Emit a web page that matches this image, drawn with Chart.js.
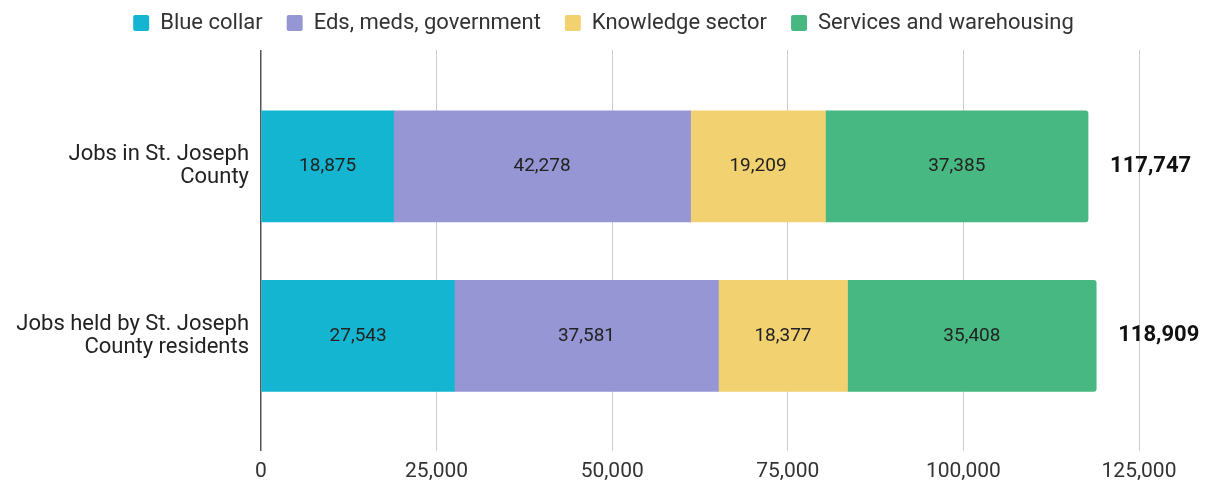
<!DOCTYPE html>
<html>
<head>
<meta charset="utf-8">
<script src="https://cdn.jsdelivr.net/npm/chart.js@4/dist/chart.umd.min.js"></script>
<style>
  body { margin: 0; background: #fff; }
</style>
</head>
<body>
<canvas id="jobsChart" width="1217" height="483"></canvas>
<script>
// two rows, four job groups
var rowLabels = [['Jobs in St. Joseph', 'County'], ['Jobs held by St. Joseph', 'County residents']];
var groups = ['Blue collar', 'Eds, meds, government', 'Knowledge sector', 'Services and warehousing'];
var blueCollar = [18875, 27543];
var edsMeds = [42278, 37581];
var knowledge = [19209, 18377];
var services = [37385, 35408];
var xTicks = [0, 25000, 50000, 75000, 100000, 125000];

var groupColors = ['#13B5D1', '#9696D4', '#F2D170', '#48B882'];
var values = [blueCollar, edsMeds, knowledge, services];

var totals = [];
for (var r = 0; r < rowLabels.length; r++) {
  var t = 0;
  for (var g = 0; g < values.length; g++) t += values[g][r];
  totals.push(t);
}

function fmt(n) { return n.toLocaleString('en-US'); }

var datasets = [];
for (var g = 0; g < groups.length; g++) {
  datasets.push({
    label: groups[g],
    data: values[g].map(function (v, i) { return { x: v, y: i }; }),
    backgroundColor: groupColors[g],
    borderWidth: 0,
    barThickness: 111,
    stack: 'all',
    borderRadius: g == groups.length - 1 ? 3 : 0
  });
}

// numbers inside each segment + bold total after each bar
var labelsPlugin = {
  id: 'barLabels',
  afterDatasetsDraw: function (chart) {
    var ctx = chart.ctx;
    ctx.save();
    ctx.textAlign = 'center';
    ctx.textBaseline = 'middle';
    ctx.fillStyle = '#222';
    ctx.font = '19px Roboto';
    chart.data.datasets.forEach(function (ds, di) {
      var meta = chart.getDatasetMeta(di);
      meta.data.forEach(function (bar, i) {
        var p = bar.getCenterPoint();
        ctx.fillText(fmt(ds.data[i].x), p.x, p.y);
      });
    });
    ctx.font = 'bold 22px Roboto';
    ctx.fillStyle = '#111';
    ctx.textAlign = 'left';
    var xs = chart.scales.x, ys = chart.scales.y;
    totals.forEach(function (t, i) {
      ctx.fillText(fmt(t), xs.getPixelForValue(t) + 22, ys.getPixelForValue(i));
    });
    ctx.restore();
  }
};

// legend: a bit more room below it, and centred on the whole canvas
var legendFix = {
  id: 'legendFix',
  beforeInit: function (chart) {
    var fit = chart.legend.fit;
    chart.legend.fit = function () {
      fit.bind(chart.legend)();
      this.height += 6;
    };
  },
  afterLayout: function (chart) {
    chart.legend.left = -10;
    chart.legend.right = chart.width;
    chart.legend.width = chart.width + 10;
  }
};

new Chart(document.getElementById('jobsChart').getContext('2d'), {
  type: 'bar',
  data: { datasets: datasets },
  plugins: [labelsPlugin, legendFix],
  options: {
    responsive: false,
    animation: false,
    indexAxis: 'y',
    layout: { padding: { left: 0, right: 78, top: -12, bottom: -9 } },
    plugins: {
      tooltip: { enabled: false },
      legend: {
        position: 'top',
        labels: {
          font: { family: 'Roboto', size: 22 },
          color: '#333',
          boxWidth: 16,
          boxHeight: 16,
          padding: 24,
          useBorderRadius: true,
          borderRadius: 2
        }
      }
    },
    scales: {
      x: {
        type: 'linear',
        stacked: true,
        min: 0,
        max: 125000,
        afterBuildTicks: function (scale) {
          scale.ticks = xTicks.map(function (v) { return { value: v }; });
        },
        ticks: {
          font: { family: 'Roboto', size: 21 },
          color: '#333',
          padding: 8,
          callback: function (v) { return fmt(v); }
        },
        grid: {
          color: function (c) { return c.tick && c.tick.value === 0 ? '#555' : '#ccc'; },
          lineWidth: function (c) { return c.tick && c.tick.value === 0 ? 1.5 : 1; },
          drawTicks: false
        },
        border: { display: false }
      },
      y: {
        type: 'linear',
        reverse: true,
        offset: false,
        min: -0.686,
        max: 1.678,
        afterBuildTicks: function (scale) {
          scale.ticks = [{ value: 0 }, { value: 1 }];
        },
        afterFit: function (scale) { scale.width = 261; },
        ticks: {
          font: { family: 'Roboto', size: 22, lineHeight: 1.05 },
          color: '#222',
          padding: 4,
          callback: function (v) { return rowLabels[v]; }
        },
        grid: { display: false },
        border: { display: false }
      }
    }
  }
});
</script>
</body>
</html>
